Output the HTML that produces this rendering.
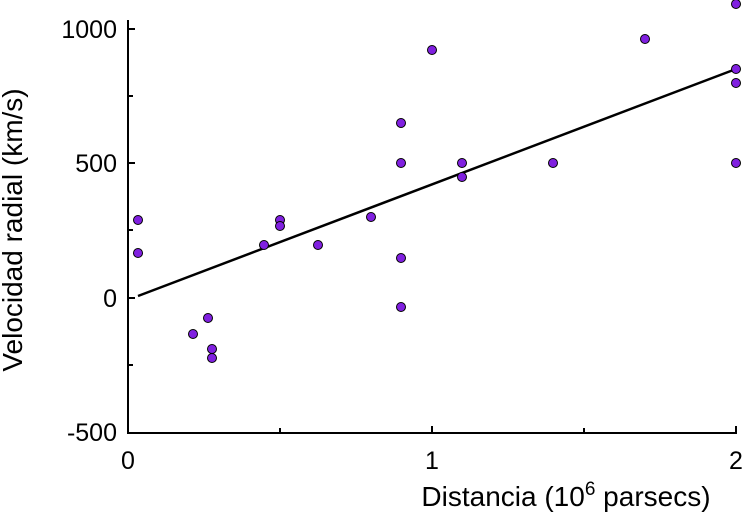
<!DOCTYPE html>
<html><head><style>body{margin:0;background:#fff}svg{display:block}</style></head><body>
<svg width="742" height="512" xmlns="http://www.w3.org/2000/svg" font-family="Liberation Sans, sans-serif">
<g stroke="#000" stroke-width="2" fill="none">
<path d="M128,20V433H737"/>
<path d="M128,29h7M128,96h5M128,163h7M128,230h5M128,298h7M128,365h5M280,433v-5M432,433v-7M584,433v-5M736,433v-7"/>
<line x1="138" y1="296" x2="736" y2="69" stroke-width="2.5"/>
</g>
<g fill="#000" font-size="25" text-anchor="end">
<text x="117" y="38">1000</text><text x="117" y="172">500</text><text x="117" y="307">0</text><text x="117" y="441">-500</text>
</g>
<g fill="#000" font-size="25" text-anchor="middle">
<text x="128" y="469">0</text><text x="432" y="469">1</text><text x="736" y="469">2</text>
</g>
<g fill="#000" font-size="28" text-anchor="middle">
<text x="566" y="506">Distancia (10<tspan font-size="19" dy="-11">6</tspan><tspan dy="11"> parsecs)</tspan></text>
<text transform="translate(22,230) rotate(-90)">Velocidad radial (km/s)</text>
</g>
<g fill="#8020e0" stroke="#000" stroke-width="1">
<circle cx="138" cy="220" r="4.5"/><circle cx="138" cy="253" r="4.5"/><circle cx="193" cy="334" r="4.5"/><circle cx="208" cy="318" r="4.5"/><circle cx="212" cy="349" r="4.5"/><circle cx="212" cy="358" r="4.5"/><circle cx="264" cy="245" r="4.5"/><circle cx="280" cy="220" r="4.5"/><circle cx="280" cy="226" r="4.5"/><circle cx="318" cy="245" r="4.5"/><circle cx="371" cy="217" r="4.5"/><circle cx="401" cy="123" r="4.5"/><circle cx="401" cy="163" r="4.5"/><circle cx="401" cy="258" r="4.5"/><circle cx="401" cy="307" r="4.5"/><circle cx="432" cy="50" r="4.5"/><circle cx="462" cy="163" r="4.5"/><circle cx="462" cy="177" r="4.5"/><circle cx="553" cy="163" r="4.5"/><circle cx="645" cy="39" r="4.5"/><circle cx="736" cy="4" r="4.5"/><circle cx="736" cy="69" r="4.5"/><circle cx="736" cy="83" r="4.5"/><circle cx="736" cy="163" r="4.5"/>
</g>
</svg>
</body></html>
